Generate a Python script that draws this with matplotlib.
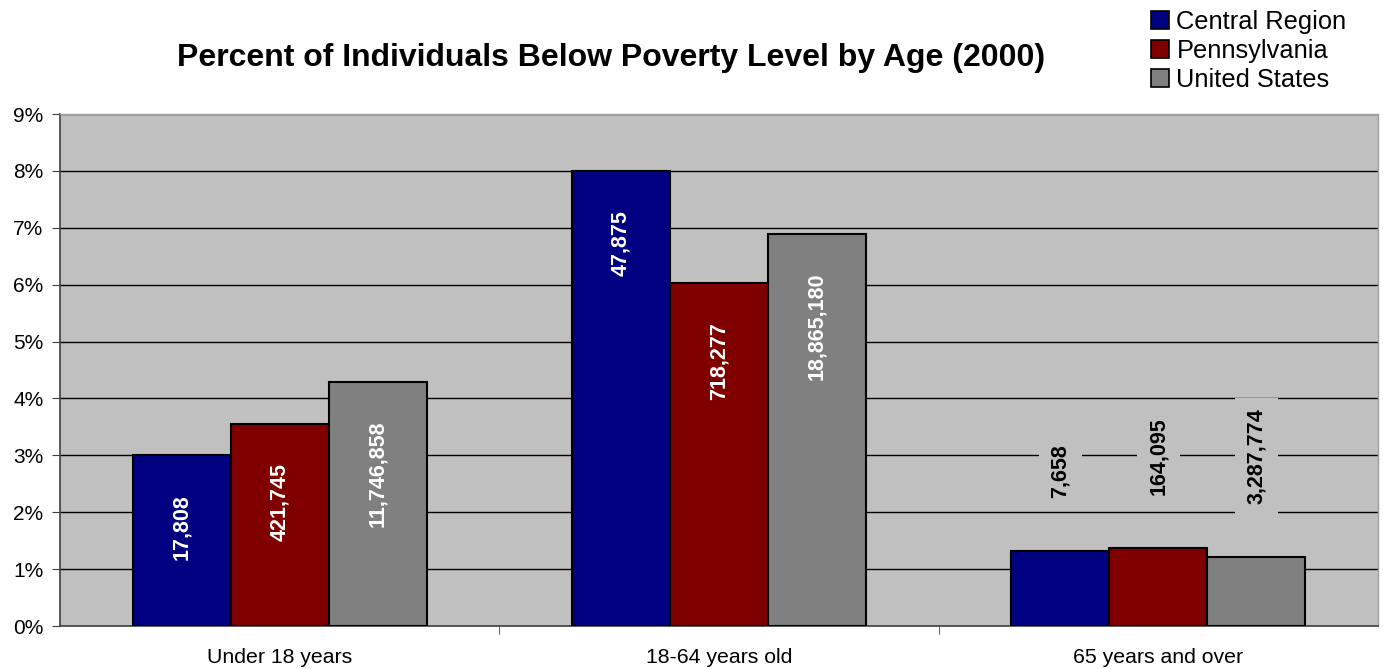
import matplotlib
matplotlib.use("Agg")
import matplotlib.pyplot as plt
from matplotlib.patches import Patch
import numpy as np

plt.rcParams['font.family'] = ['Liberation Sans', 'DejaVu Sans']

categories = ["Under 18 years", "18-64 years old", "65 years and over"]
series = ["Central Region", "Pennsylvania", "United States"]
central = [3.0, 8.0, 1.32]
penn = [3.55, 6.03, 1.37]
us = [4.29, 6.89, 1.21]
central_n = ["17,808", "47,875", "7,658"]
penn_n = ["421,745", "718,277", "164,095"]
us_n = ["11,746,858", "18,865,180", "3,287,774"]
colors = ["#000080", "#800000", "#808080"]
yticks = [0, 1, 2, 3, 4, 5, 6, 7, 8, 9]

fig = plt.figure(figsize=(13.83, 6.69), dpi=100)
ax = fig.add_axes([60/1383, 1-626/669, (1378-60)/1383, (626-114)/669])
ax.set_facecolor("#C0C0C0")

x = np.arange(len(categories))
w = 0.223
vals = [central, penn, us]
labs = [central_n, penn_n, us_n]
for i, (v, l, c) in enumerate(zip(vals, labs, colors)):
    xs = x + (i - 1) * w
    ax.bar(xs, v, width=w, color=c, edgecolor="black", linewidth=1.5, zorder=3)
    for j, (xx, vv, ll) in enumerate(zip(xs, v, l)):
        if vv > 2:
            ax.annotate(ll, xy=(xx, vv), xytext=(0, -28), textcoords="offset points",
                        rotation=90, ha="center", va="top", color="white",
                        fontsize=15.5, fontweight="bold", zorder=4)
        else:
            ax.annotate(ll, xy=(xx, vv), xytext=(0, 38), textcoords="offset points",
                        rotation=90, ha="center", va="bottom", color="black",
                        fontsize=15.5, fontweight="bold", zorder=4,
                        bbox=dict(boxstyle="square,pad=0.5", facecolor="#C0C0C0", edgecolor="none"))

ax.set_xlim(-0.5, 2.5)
ax.set_ylim(0, 9)
ax.set_yticks(yticks)
ax.set_yticklabels([f"{t}%" for t in yticks], fontsize=15)
ax.yaxis.grid(True, color="black", linewidth=1, zorder=1)
ax.set_axisbelow(True)
ax.set_xticks(x)
ax.set_xticklabels(categories, fontsize=15.3)
ax.tick_params(axis="x", which="major", length=0, pad=16)
ax.set_xticks([0.5, 1.5], minor=True)
ax.tick_params(axis="x", which="minor", length=6, color="#404040")
ax.tick_params(axis="y", length=6, pad=6, color="#404040")
for s in ["left", "bottom"]:
    ax.spines[s].set_color("#404040")
    ax.spines[s].set_linewidth(1.2)
for s in ["top", "right"]:
    ax.spines[s].set_color("#A0A0A0")
    ax.spines[s].set_linewidth(1)

fig.text(611/1383, 1-58/669, "Percent of Individuals Below Poverty Level by Age (2000)",
         ha="center", va="center", fontsize=23, fontweight="bold")

handles = [Patch(facecolor=c, edgecolor="black", linewidth=1.2) for c in colors]
fig.legend(handles, series, loc="upper left", bbox_to_anchor=(1146/1383, 1-5/669),
           frameon=False, fontsize=18.3, handlelength=0.7, handleheight=0.7,
           handletextpad=0.3, labelspacing=0.2, borderpad=0.2, borderaxespad=0)

fig.savefig("out.png", dpi=100)
